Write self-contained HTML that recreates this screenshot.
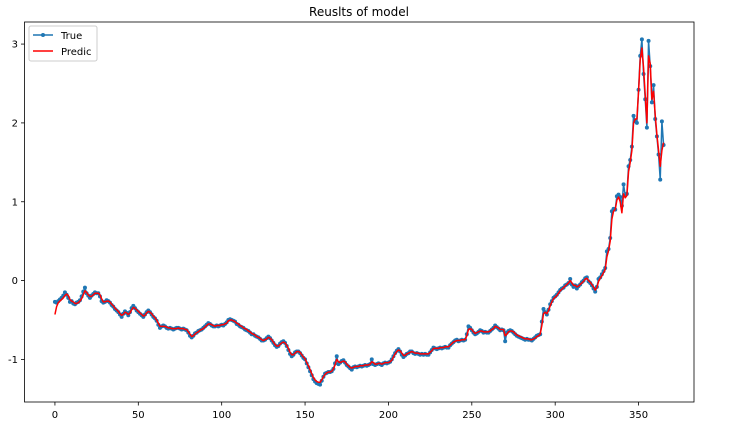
<!DOCTYPE html>
<html><head><meta charset="utf-8"><style>
body{margin:0;background:#fff;}
svg{display:block;font-family:"DejaVu Sans","Liberation Sans",sans-serif;}
</style></head><body>
<svg id="chart" width="741" height="433">
<text x="359" y="16" font-size="12" text-anchor="middle" fill="#000">Reuslts of model</text>
<rect x="24.5" y="22" width="669.5" height="380" fill="none" stroke="#000" stroke-width="0.8"/>
<g id="xticks"></g>
<g id="yticks"></g>
<g id="series"></g>
<g>
<rect x="29" y="26" width="68" height="35" fill="#fff" fill-opacity="0.8" stroke="#ccc" rx="2"/>
<g>
<line x1="33" y1="35" x2="53" y2="35" stroke="#1f77b4" stroke-width="1.5"/>
<circle cx="43" cy="35" r="2" fill="#1f77b4"/>
<text x="61" y="39" font-size="10" fill="#000">True</text></g>
<g>
<line x1="33" y1="51" x2="53" y2="51" stroke="#ff0000" stroke-width="1.5"/>
<text x="61" y="55" font-size="10" fill="#000">Predic</text></g>
</g>
</svg>
<script>
const xTicks=[0,50,100,150,200,250,300,350];
const yTicks=[-1,0,1,2,3];
const trueVals=[-0.27,-0.28,-0.26,-0.24,-0.22,-0.19,-0.15,-0.18,-0.22,-0.27,
-0.26,-0.29,-0.30,-0.28,-0.27,-0.25,-0.20,-0.14,-0.09,-0.16,
-0.19,-0.22,-0.19,-0.17,-0.15,-0.16,-0.16,-0.20,-0.26,-0.28,
-0.27,-0.25,-0.26,-0.28,-0.31,-0.33,-0.36,-0.38,-0.40,-0.43,
-0.46,-0.42,-0.39,-0.41,-0.44,-0.40,-0.35,-0.32,-0.35,-0.38,
-0.40,-0.42,-0.44,-0.46,-0.43,-0.40,-0.38,-0.40,-0.43,-0.46,
-0.48,-0.51,-0.56,-0.60,-0.58,-0.57,-0.58,-0.60,-0.61,-0.60,
-0.61,-0.62,-0.61,-0.60,-0.60,-0.61,-0.62,-0.61,-0.62,-0.63,
-0.66,-0.70,-0.72,-0.70,-0.67,-0.66,-0.64,-0.63,-0.62,-0.60,
-0.58,-0.56,-0.54,-0.55,-0.57,-0.58,-0.58,-0.57,-0.58,-0.57,
-0.56,-0.57,-0.55,-0.53,-0.50,-0.49,-0.50,-0.51,-0.52,-0.55,
-0.56,-0.58,-0.59,-0.60,-0.62,-0.63,-0.64,-0.66,-0.68,-0.68,
-0.70,-0.71,-0.72,-0.74,-0.76,-0.76,-0.75,-0.73,-0.71,-0.73,
-0.76,-0.79,-0.82,-0.84,-0.83,-0.80,-0.78,-0.77,-0.79,-0.83,
-0.88,-0.93,-0.96,-0.94,-0.91,-0.90,-0.90,-0.92,-0.95,-0.98,
-1.00,-1.05,-1.10,-1.15,-1.20,-1.25,-1.28,-1.30,-1.31,-1.32,
-1.27,-1.22,-1.18,-1.17,-1.16,-1.16,-1.15,-1.12,-1.05,-0.96,
-1.06,-1.04,-1.02,-1.01,-1.04,-1.07,-1.09,-1.11,-1.13,-1.10,
-1.09,-1.10,-1.09,-1.08,-1.09,-1.08,-1.07,-1.08,-1.07,-1.06,
-1.00,-1.06,-1.07,-1.06,-1.05,-1.06,-1.07,-1.05,-1.04,-1.05,
-1.04,-1.03,-1.00,-0.96,-0.92,-0.89,-0.87,-0.90,-0.94,-0.97,
-0.95,-0.93,-0.92,-0.90,-0.90,-0.92,-0.93,-0.92,-0.93,-0.94,
-0.93,-0.94,-0.93,-0.94,-0.94,-0.91,-0.88,-0.85,-0.86,-0.87,
-0.86,-0.85,-0.86,-0.85,-0.84,-0.85,-0.85,-0.82,-0.80,-0.78,
-0.76,-0.75,-0.77,-0.76,-0.75,-0.76,-0.75,-0.68,-0.58,-0.60,
-0.63,-0.66,-0.68,-0.67,-0.65,-0.63,-0.64,-0.66,-0.65,-0.66,
-0.66,-0.64,-0.62,-0.60,-0.57,-0.59,-0.61,-0.63,-0.62,-0.63,
-0.77,-0.66,-0.64,-0.63,-0.64,-0.66,-0.68,-0.70,-0.71,-0.72,
-0.73,-0.74,-0.75,-0.74,-0.75,-0.75,-0.76,-0.74,-0.72,-0.70,
-0.69,-0.68,-0.52,-0.36,-0.40,-0.43,-0.37,-0.30,-0.26,-0.22,
-0.20,-0.18,-0.15,-0.12,-0.10,-0.09,-0.06,-0.05,-0.03,0.02,
-0.05,-0.08,-0.06,-0.10,-0.07,-0.05,-0.02,0.00,0.03,0.04,
-0.01,-0.03,-0.06,-0.10,-0.14,-0.08,0.02,0.04,0.08,0.12,
0.16,0.37,0.40,0.54,0.88,0.91,0.90,1.07,1.09,1.06,
0.95,1.22,1.08,1.10,1.45,1.53,1.70,2.09,2.02,2.00,
2.42,2.85,3.06,2.62,2.30,1.94,3.04,2.72,2.26,2.48,
2.05,1.83,1.60,1.28,2.02,1.72];
const predVals=[-0.43,-0.33,-0.28,-0.26,-0.24,-0.22,-0.19,-0.17,-0.19,-0.24,
-0.26,-0.27,-0.29,-0.29,-0.28,-0.26,-0.23,-0.18,-0.13,-0.15,
-0.18,-0.20,-0.20,-0.18,-0.16,-0.16,-0.16,-0.18,-0.23,-0.27,
-0.27,-0.26,-0.26,-0.27,-0.30,-0.32,-0.35,-0.37,-0.39,-0.42,
-0.44,-0.43,-0.40,-0.41,-0.43,-0.41,-0.37,-0.34,-0.35,-0.37,
-0.39,-0.41,-0.43,-0.45,-0.44,-0.41,-0.39,-0.40,-0.42,-0.45,
-0.47,-0.50,-0.54,-0.58,-0.58,-0.58,-0.58,-0.59,-0.60,-0.60,
-0.61,-0.61,-0.61,-0.61,-0.60,-0.61,-0.61,-0.61,-0.62,-0.62,
-0.65,-0.68,-0.71,-0.70,-0.68,-0.66,-0.65,-0.63,-0.62,-0.61,
-0.59,-0.57,-0.55,-0.55,-0.56,-0.57,-0.58,-0.57,-0.57,-0.57,
-0.56,-0.56,-0.55,-0.54,-0.51,-0.50,-0.50,-0.51,-0.52,-0.54,
-0.55,-0.57,-0.58,-0.60,-0.61,-0.62,-0.64,-0.65,-0.67,-0.68,
-0.69,-0.71,-0.72,-0.73,-0.75,-0.76,-0.75,-0.74,-0.72,-0.73,
-0.75,-0.78,-0.81,-0.83,-0.83,-0.81,-0.79,-0.78,-0.79,-0.82,
-0.86,-0.91,-0.94,-0.94,-0.92,-0.90,-0.90,-0.91,-0.94,-0.97,
-0.99,-1.04,-1.08,-1.13,-1.18,-1.23,-1.26,-1.28,-1.29,-1.29,
-1.26,-1.22,-1.19,-1.17,-1.16,-1.16,-1.15,-1.12,-1.07,-1.00,
-1.03,-1.04,-1.03,-1.02,-1.03,-1.06,-1.08,-1.10,-1.11,-1.10,
-1.09,-1.09,-1.09,-1.08,-1.08,-1.08,-1.07,-1.07,-1.07,-1.06,
-1.03,-1.04,-1.06,-1.06,-1.05,-1.05,-1.06,-1.05,-1.04,-1.04,
-1.04,-1.03,-1.01,-0.97,-0.93,-0.90,-0.88,-0.89,-0.92,-0.95,
-0.95,-0.93,-0.92,-0.91,-0.90,-0.91,-0.92,-0.92,-0.92,-0.93,
-0.93,-0.93,-0.93,-0.93,-0.93,-0.91,-0.89,-0.86,-0.86,-0.86,
-0.86,-0.85,-0.85,-0.85,-0.84,-0.84,-0.84,-0.82,-0.80,-0.78,
-0.77,-0.76,-0.76,-0.76,-0.75,-0.75,-0.75,-0.70,-0.62,-0.61,
-0.62,-0.65,-0.67,-0.66,-0.65,-0.64,-0.64,-0.65,-0.65,-0.65,
-0.65,-0.64,-0.62,-0.61,-0.58,-0.59,-0.60,-0.62,-0.62,-0.62,
-0.70,-0.68,-0.65,-0.64,-0.64,-0.65,-0.67,-0.69,-0.70,-0.71,
-0.72,-0.73,-0.74,-0.74,-0.74,-0.75,-0.75,-0.74,-0.73,-0.71,
-0.70,-0.68,-0.57,-0.42,-0.40,-0.42,-0.38,-0.32,-0.27,-0.23,
-0.21,-0.19,-0.16,-0.13,-0.11,-0.09,-0.07,-0.05,-0.03,0.00,
-0.03,-0.06,-0.06,-0.08,-0.07,-0.05,-0.03,-0.01,0.02,0.03,
0.00,-0.02,-0.05,-0.08,-0.12,-0.09,-0.01,0.03,0.06,0.10,
0.14,0.30,0.38,0.50,0.78,0.88,0.90,1.02,1.06,1.00,
0.86,1.10,1.05,1.08,1.38,1.50,1.65,2.00,2.05,2.05,
2.40,2.80,2.95,2.70,2.35,2.00,2.85,2.75,2.30,2.40,
2.10,1.85,1.65,1.45,1.65,1.75];

const NS='http://www.w3.org/2000/svg';
const X0=-18.25,X1=383.25,PX0=24.5,PX1=694;
const Y0=-1.54,Y1=3.28,PY0=402,PY1=22;
function xs(v){return PX0+(v-X0)/(X1-X0)*(PX1-PX0);}
function ys(v){return PY0+(v-Y0)/(Y1-Y0)*(PY1-PY0);}
function mk(tag,attrs,parent){const e=document.createElementNS(NS,tag);for(const k in attrs)e.setAttribute(k,attrs[k]);parent.appendChild(e);return e;}

const xg=document.getElementById('xticks');
xTicks.forEach(t=>{
  const x=xs(t);
  const tk=mk('line',{x1:x,x2:x,y1:402,y2:405.5,stroke:'#000','stroke-width':0.8},xg);
  
  
  const lb=mk('text',{x:x,y:418,'font-size':10,'text-anchor':'middle',fill:'#000'},xg);
  lb.textContent=t;
  
  
});
const yg=document.getElementById('yticks');
yTicks.forEach(t=>{
  const y=ys(t);
  const tk=mk('line',{x1:21,x2:24.5,y1:y,y2:y,stroke:'#000','stroke-width':0.8},yg);
  
  
  const lb=mk('text',{x:18,y:y+3.5,'font-size':10,'text-anchor':'end',fill:'#000'},yg);
  lb.textContent=t;
  
  
});

const sg=document.getElementById('series');
const tPts=trueVals.map((v,i)=>xs(i).toFixed(2)+','+ys(v).toFixed(2)).join(' ');
const tl=mk('polyline',{points:tPts,fill:'none',stroke:'#1f77b4','stroke-width':1.5,'stroke-linejoin':'round'},sg);


trueVals.forEach((v,i)=>{
  const c=mk('circle',{cx:xs(i),cy:ys(v),r:2,fill:'#1f77b4'},sg);
  
  
});
const pPts=predVals.map((v,i)=>xs(i).toFixed(2)+','+ys(v).toFixed(2)).join(' ');
const pl=mk('polyline',{points:pPts,fill:'none',stroke:'#ff0000','stroke-width':1.5,'stroke-linejoin':'round'},sg);


</script>
</body></html>
